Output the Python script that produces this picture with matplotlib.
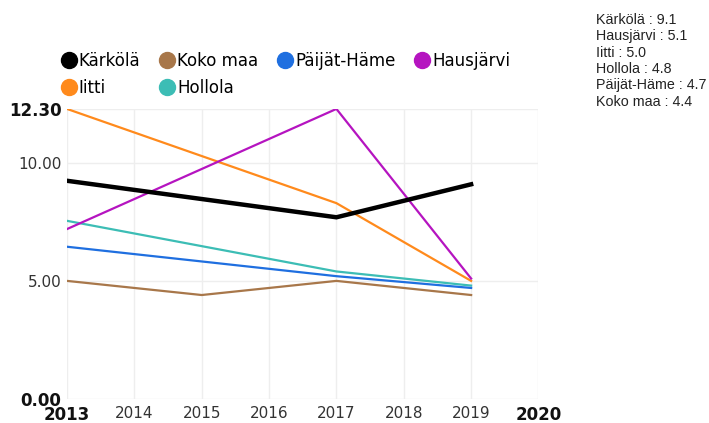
import matplotlib.pyplot as plt
from matplotlib.lines import Line2D

# series values
names = ["Kärkölä", "Koko maa", "Päijät-Häme", "Hausjärvi", "Iitti", "Hollola"]
colors = ["#000000", "#a8774a", "#1f6fe0", "#b514c0", "#ff8a1c", "#3cbdb5"]
widths = [3.2, 1.6, 1.6, 1.6, 1.6, 1.6]

years_kkm = [2013, 2015, 2017, 2019]
years = [2013, 2017, 2019]
karkola = [9.25, 7.7, 9.1]
koko_maa = [5.0, 4.4, 5.0, 4.4]
paijat_hame = [6.45, 5.2, 4.7]
hausjarvi = [7.2, 12.3, 5.1]
iitti = [12.3, 8.3, 5.0]
hollola = [7.55, 5.4, 4.8]

series = [
    (years, karkola),
    (years_kkm, koko_maa),
    (years, paijat_hame),
    (years, hausjarvi),
    (years, iitti),
    (years, hollola),
]
latest = ["9.1", "4.4", "4.7", "5.1", "5.0", "4.8"]
side_order = [0, 3, 4, 5, 2, 1]
legend_order = [0, 4, 1, 5, 2, 3]  # legend fills column by column

y_ticks = [0, 5, 10, 12.3]
x_ticks = list(range(2013, 2021))

fig = plt.figure(figsize=(7.09, 4.23), dpi=100)
ax = fig.add_axes([0.0945, 0.0575, 0.665, 0.685])

# draw in reverse so Kärkölä sits on top
for i in reversed(range(len(names))):
    xs, ys = series[i]
    ax.plot(xs, ys, color=colors[i], lw=widths[i], solid_joinstyle="miter",
            zorder=3 + (len(names) - i))

ax.set_xlim(2013, 2020)
ax.set_ylim(0, 12.3)
ax.set_xticks(x_ticks)
ax.set_yticks(y_ticks)
ax.set_yticklabels([f"{v:.2f}" for v in y_ticks])
ax.set_xticklabels([str(v) for v in x_ticks])
for lab in ax.get_yticklabels() + ax.get_xticklabels():
    lab.set_fontsize(11)
    lab.set_color("#333333")
for lab in [ax.get_yticklabels()[0], ax.get_yticklabels()[-1],
            ax.get_xticklabels()[0], ax.get_xticklabels()[-1]]:
    lab.set_fontweight("bold")
    lab.set_color("#111111")
    lab.set_fontsize(12)

ax.tick_params(axis="y", length=0, pad=4)
ax.tick_params(axis="x", length=0, pad=5.5)
for s in ax.spines.values():
    s.set_visible(False)
ax.grid(True, color="#eeeeee", lw=1, zorder=0)
ax.set_axisbelow(True)

handles = [Line2D([], [], ls="", marker="o", ms=11.5, color=colors[i])
           for i in legend_order]
labels = [names[i] for i in legend_order]
fig.legend(handles, labels, loc="upper left", bbox_to_anchor=(0.083, 0.877),
           ncol=4, frameon=False, fontsize=12, handletextpad=0.0,
           columnspacing=1.0, labelspacing=0.55, handlelength=1.2,
           borderaxespad=0, borderpad=0)

side = "\n".join(f"{names[i]} : {latest[i]}" for i in side_order)
fig.text(0.841, 0.97, side, ha="left", va="top", fontsize=10.3,
         family="Liberation Sans", color="#222222", linespacing=1.22)

fig.savefig("out.png", dpi=100)
